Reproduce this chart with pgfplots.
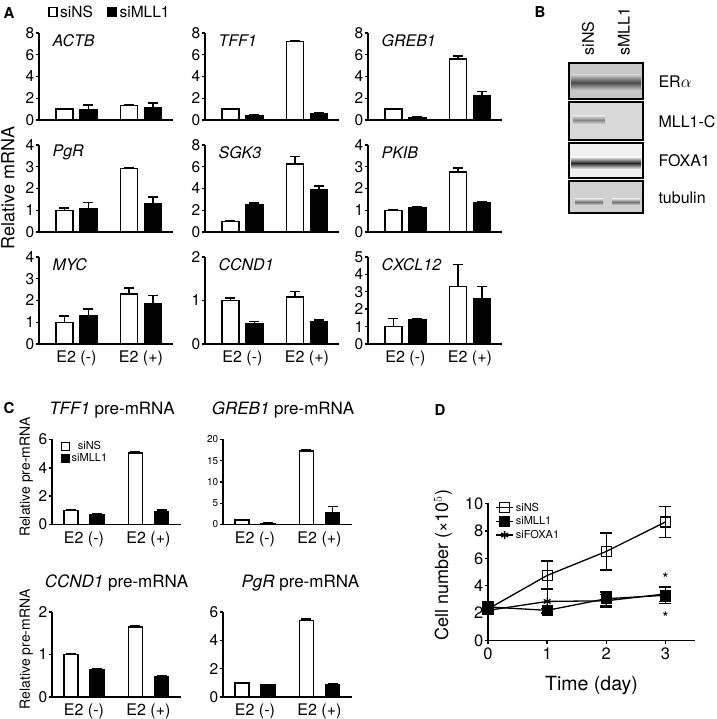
\documentclass[border=0pt]{standalone}
\usepackage{pgfplots}
\pgfplotsset{compat=1.18}
\usepackage{fontspec}
\setmainfont{TeX Gyre Heros}

\newcommand\fP{\fontsize{15}{17}\selectfont\bfseries}
\newcommand\fA{\fontsize{15.5}{17}\selectfont}
\newcommand\fG{\fontsize{16}{18}\selectfont\itshape}
\newcommand\fE{\fontsize{16}{18}\selectfont}
\newcommand\fT{\fontsize{17}{19}\selectfont}
\newcommand\fY{\fontsize{14}{16}\selectfont}
\newcommand\fS{\fontsize{10}{12}\selectfont}
\newcommand\fL{\fontsize{11}{13}\selectfont}
\newcommand\fD{\fontsize{18}{20}\selectfont}

\tikzset{gene/.style={anchor=west, font=\fG}}

% bars sit at x = group -/+ offset (offset in data units), error bars follow them
\pgfplotsset{
  every axis/.append style={/pgf/number format/assume math mode=true},
  base/.style={scale only axis, anchor=south west, ymin=0, clip=false,
    axis x line*=bottom, axis y line*=left,
    axis line style={line width=1.4pt},
    tick align=outside, major tick length=3.5pt,
    tick style={line width=1.4pt, black},
    yticklabel style={inner xsep=1pt},
    tick label style={font=\fA}},
  aA/.style={base, width=134pt, height=87pt, xmin=0.419, xmax=2.496, xtick=\empty},
  aAb/.style={aA, xtick={1,2}, xticklabels={E2 (-),E2 (+)},
    xticklabel style={font=\fE}, x tick style={draw=none}},
  aC/.style={base, width=129pt, height=85pt, xmin=0.504, xmax=2.504,
    xtick={1,2}, xticklabels={E2 (-),E2 (+)},
    xticklabel style={font=\fE}, x tick style={draw=none}},
  errs/.style={error bars/.cd, y dir=plus, y explicit,
    error bar style={line width=1.4pt, black},
    error mark options={rotate=90, line width=1.4pt, mark size=5pt, black}},
  wb/.style={ybar, bar width=17pt, bar shift=0pt, fill=white, draw=black, line width=1.4pt, errs},
  bb/.style={ybar, bar width=17pt, bar shift=0pt, fill=black, draw=black, line width=1.4pt, errs},
  wc/.style={ybar, bar width=14pt, bar shift=0pt, fill=white, draw=black, line width=1.4pt,
    legend image code/.code={\draw[line width=1pt,fill=white] (0pt,-4pt) rectangle (8pt,4pt);}, errs},
  bc/.style={ybar, bar width=14pt, bar shift=0pt, fill=black, draw=black, line width=1.4pt,
    legend image code/.code={\draw[line width=1pt,fill=black] (0pt,-4pt) rectangle (8pt,4pt);}, errs},
}

\begin{document}
\begin{tikzpicture}
\useasboundingbox (0,0) rectangle (716pt,719pt);

\node[font=\fP] at (9pt,706pt) {A};
\node[font=\fP] at (540pt,707pt) {B};
\node[font=\fP] at (9pt,311pt) {C};
\node[font=\fP] at (440pt,309pt) {D};
\node[rotate=90, font=\fD] at (8pt,531pt) {Relative mRNA};

% ---------- panel A, row 1
\begin{axis}[aA, at={(39pt,599pt)}, ymax=8, ytick={0,2,4,6,8}]
\addplot[wb] coordinates {(0.814,1.0) +- (0,0.06) (1.814,1.33) +- (0,0.04)};
\addplot[bb] coordinates {(1.186,0.92) +- (0,0.45) (2.186,1.15) +- (0,0.4)};
\node[gene] at (rel axis cs:0.075,0.91) {ACTB};
% legend keys above the panel
\draw[line width=1.2pt, fill=white] (rel axis cs:0.075,1.19) rectangle (rel axis cs:0.134,1.295);
\node[anchor=west, font=\fA, inner sep=0pt] at (rel axis cs:0.157,1.242) {siNS};
\draw[line width=1.2pt, fill=black] (rel axis cs:0.515,1.19) rectangle (rel axis cs:0.575,1.295);
\node[anchor=west, font=\fA, inner sep=0pt] at (rel axis cs:0.6,1.242) {siMLL1};
\end{axis}

\begin{axis}[aA, at={(205pt,599pt)}, ymax=8, ytick={0,2,4,6,8}]
\addplot[wb] coordinates {(0.814,1.0) +- (0,0.06) (1.814,7.2) +- (0,0.05)};
\addplot[bb] coordinates {(1.186,0.42) +- (0,0.03) (2.186,0.62) +- (0,0.03)};
\node[gene] at (rel axis cs:0.075,0.91) {TFF1};
\end{axis}

\begin{axis}[aA, at={(368pt,599pt)}, ymax=8, ytick={0,2,4,6,8}]
\addplot[wb] coordinates {(0.814,1.0) +- (0,0.03) (1.814,5.6) +- (0,0.3)};
\addplot[bb] coordinates {(1.186,0.25) +- (0,0.06) (2.186,2.25) +- (0,0.35)};
\node[gene] at (rel axis cs:0.075,0.91) {GREB1};
\end{axis}

% ---------- panel A, row 2
\begin{axis}[aA, at={(39pt,487pt)}, ymax=4, ytick={0,1,2,3,4}]
\addplot[wb] coordinates {(0.814,1.0) +- (0,0.1) (1.814,2.93) +- (0,0.02)};
\addplot[bb] coordinates {(1.186,1.05) +- (0,0.3) (2.186,1.28) +- (0,0.32)};
\node[gene] at (rel axis cs:0.075,0.91) {PgR};
\end{axis}

\begin{axis}[aA, at={(205pt,487pt)}, ymax=8, ytick={0,2,4,6,8}]
\addplot[wb] coordinates {(0.814,0.98) +- (0,0.03) (1.814,6.25) +- (0,0.7)};
\addplot[bb] coordinates {(1.186,2.55) +- (0,0.12) (2.186,3.85) +- (0,0.38)};
\node[gene] at (rel axis cs:0.075,0.91) {SGK3};
\end{axis}

\begin{axis}[aA, at={(368pt,487pt)}, ymax=4, ytick={0,1,2,3,4}]
\addplot[wb] coordinates {(0.814,1.0) +- (0,0.02) (1.814,2.75) +- (0,0.2)};
\addplot[bb] coordinates {(1.186,1.1) +- (0,0.06) (2.186,1.35) +- (0,0.02)};
\node[gene] at (rel axis cs:0.075,0.91) {PKIB};
\end{axis}

% ---------- panel A, row 3
\begin{axis}[aAb, at={(39pt,375pt)}, ymax=4, ytick={0,1,2,3,4}]
\addplot[wb] coordinates {(0.814,1.0) +- (0,0.28) (1.814,2.3) +- (0,0.27)};
\addplot[bb] coordinates {(1.186,1.32) +- (0,0.28) (2.186,1.87) +- (0,0.36)};
\node[gene] at (rel axis cs:0.075,0.91) {MYC};
\end{axis}

\begin{axis}[aAb, at={(205pt,375pt)}, ymax=2, ytick={0,1,2}]
\addplot[wb] coordinates {(0.814,1.0) +- (0,0.06) (1.814,1.08) +- (0,0.13)};
\addplot[bb] coordinates {(1.186,0.46) +- (0,0.06) (2.186,0.52) +- (0,0.03)};
\node[gene] at (rel axis cs:0.075,0.91) {CCND1};
\end{axis}

\begin{axis}[aAb, at={(368pt,375pt)}, ymax=5, ytick={0,1,2,3,4,5}]
\addplot[wb] coordinates {(0.814,1.0) +- (0,0.47) (1.814,3.3) +- (0,1.27)};
\addplot[bb] coordinates {(1.186,1.4) +- (0,0.04) (2.186,2.6) +- (0,0.7)};
\node[gene] at (rel axis cs:0.075,0.91) {CXCL12};
\end{axis}

% ---------- panel B (blot)
\begin{axis}[scale only axis, anchor=south west, at={(569pt,506pt)}, width=74pt, height=150pt,
  xmin=569, xmax=643, ymin=63, ymax=213, y dir=reverse, hide axis, clip=false]
\fill[black!22] (axis cs:569,63) rectangle (axis cs:643,99);
\shade[top color=black!22, bottom color=black!22, middle color=black!72] (axis cs:571,75) rectangle (axis cs:641,90);
\draw[line width=1.5pt] (axis cs:569,63) rectangle (axis cs:643,99);
\fill[black!15] (axis cs:569,102) rectangle (axis cs:643,140);
\shade[top color=black!15, bottom color=black!15, middle color=black!48] (axis cs:573,116) rectangle (axis cs:605,124);
\draw[line width=1.5pt] (axis cs:569,102) rectangle (axis cs:643,140);
\fill[black!6] (axis cs:569,143) rectangle (axis cs:643,178);
\shade[top color=black!6, bottom color=black!6, middle color=black!85] (axis cs:571,157) rectangle (axis cs:641,169);
\draw[line width=1.5pt] (axis cs:569,143) rectangle (axis cs:643,178);
\fill[black!18] (axis cs:569,181) rectangle (axis cs:643,213);
\shade[top color=black!18, bottom color=black!18, middle color=black!55] (axis cs:575,199) rectangle (axis cs:603,205);
\shade[top color=black!18, bottom color=black!18, middle color=black!55] (axis cs:612,199) rectangle (axis cs:640,205);
\draw[line width=1.5pt] (axis cs:569,181) rectangle (axis cs:643,213);
\node[anchor=west, font=\fE] at (axis cs:655,82) {ER$\alpha$};
\node[anchor=west, font=\fE] at (axis cs:655,122) {MLL1-C};
\node[anchor=west, font=\fE] at (axis cs:655,161) {FOXA1};
\node[anchor=west, font=\fE] at (axis cs:655,198) {tubulin};
\node[rotate=90, anchor=west, font=\fE] at (axis cs:588,59) {siNS};
\node[rotate=90, anchor=west, font=\fE] at (axis cs:624,59) {sMLL1};
\end{axis}

% ---------- panel C
\begin{axis}[aC, at={(52pt,194.5pt)}, ymax=6, ytick={0,2,4,6},
  legend style={at={(0.07,1.0)}, anchor=north west, draw=none, fill=none,
    font=\fL, inner sep=0pt, row sep=0pt, nodes={inner sep=1.5pt}}]
\addplot[wc] coordinates {(0.798,1.0) +- (0,0.02) (1.798,5.05) +- (0,0.06)};
\addlegendentry{siNS}
\addplot[bc] coordinates {(1.202,0.72) +- (0,0.03) (2.202,0.92) +- (0,0.1)};
\addlegendentry{siMLL1}
\node[font=\fT] at (rel axis cs:0.465,1.35) {\textit{TFF1} pre-mRNA};
\node[rotate=90, font=\fY] at (rel axis cs:-0.2,0.56) {Relative pre-mRNA};
\end{axis}

\begin{axis}[aC, at={(223pt,194.5pt)}, ymax=20, ytick={0,5,10,15,20},
  yticklabel style={font=\fS}]
\addplot[wc] coordinates {(0.798,1.1) +- (0,0.05) (1.798,17.3) +- (0,0.3)};
\addplot[bc] coordinates {(1.202,0.3) +- (0,0.05) (2.202,2.7) +- (0,1.6)};
\node[font=\fT] at (rel axis cs:0.465,1.35) {\textit{GREB1} pre-mRNA};
\end{axis}

\begin{axis}[aC, at={(52pt,22pt)}, ymax=2, ytick={0,1,2}]
\addplot[wc] coordinates {(0.798,1.0) +- (0,0.02) (1.798,1.65) +- (0,0.03)};
\addplot[bc] coordinates {(1.202,0.65) +- (0,0.02) (2.202,0.48) +- (0,0.01)};
\node[font=\fT] at (rel axis cs:0.5,1.34) {\textit{CCND1} pre-mRNA};
\node[rotate=90, font=\fY] at (rel axis cs:-0.2,0.56) {Relative pre-mRNA};
\end{axis}

\begin{axis}[aC, at={(223pt,22pt)}, ymax=6, ytick={0,2,4,6}]
\addplot[wc] coordinates {(0.798,0.98) +- (0,0.03) (1.798,5.4) +- (0,0.12)};
\addplot[bc] coordinates {(1.202,0.85) +- (0,0.02) (2.202,0.88) +- (0,0.03)};
\node[font=\fT] at (rel axis cs:0.6,1.34) {\textit{PgR} pre-mRNA};
\end{axis}

% ---------- panel D
\begin{axis}[base, at={(488pt,78.5pt)}, width=207pt, height=137pt,
  xmin=0, xmax=3.5, ymax=10, xtick={0,1,2,3}, ytick={0,2,4,6,8,10},
  tick label style={font=\fontsize{16.5}{18}\selectfont},
  xticklabel style={inner ysep=4pt},
  legend style={at={(0.035,1.02)}, anchor=north west, draw=none, fill=none,
    font=\fL, inner sep=0pt, row sep=0pt, nodes={inner sep=2pt}},
  legend cell align=left]
\addplot[black, line width=1.3pt, mark=square, mark size=5pt,
  mark options={fill=white, line width=1.3pt},
  error bars/.cd, y dir=both, y explicit,
  error bar style={line width=1.3pt}, error mark options={rotate=90, line width=1.3pt, mark size=6pt}]
  coordinates {(0,2.3) +- (0,0.2) (1,4.75) +- (0,1.05) (2,6.5) +- (0,1.35) (3,8.65) +- (0,1.15)};
\addlegendentry{siNS}
\addplot[black, line width=1.3pt, mark=square*, mark size=5pt,
  mark options={fill=black, line width=1.3pt},
  error bars/.cd, y dir=both, y explicit,
  error bar style={line width=1.3pt}, error mark options={rotate=90, line width=1.3pt, mark size=6pt}]
  coordinates {(0,2.45) +- (0,0.3) (1,2.2) +- (0,0.15) (2,3.05) +- (0,0.5) (3,3.3) +- (0,0.6)};
\addlegendentry{siMLL1}
\addplot[black, line width=1.3pt, mark=asterisk, mark size=4pt,
  mark options={line width=1.3pt},
  error bars/.cd, y dir=both, y explicit,
  error bar style={line width=1.3pt}, error mark options={rotate=90, line width=1.3pt, mark size=6pt}]
  coordinates {(0,2.2) +- (0,0.1) (1,2.85) +- (0,0.9) (2,2.9) +- (0,0.45) (3,3.4) +- (0,0.55)};
\addlegendentry{siFOXA1}
\node[font=\fontsize{16}{18}\selectfont] at (axis cs:3,4.5) {*};
\node[font=\fontsize{16}{18}\selectfont] at (axis cs:3,1.65) {*};
\node[rotate=90, font=\fD] at (rel axis cs:-0.217,0.55) {Cell number (×10$^5$)};
\node[font=\fontsize{19.5}{21}\selectfont] at (rel axis cs:0.5,-0.33) {Time (day)};
\end{axis}

\end{tikzpicture}
\end{document}
